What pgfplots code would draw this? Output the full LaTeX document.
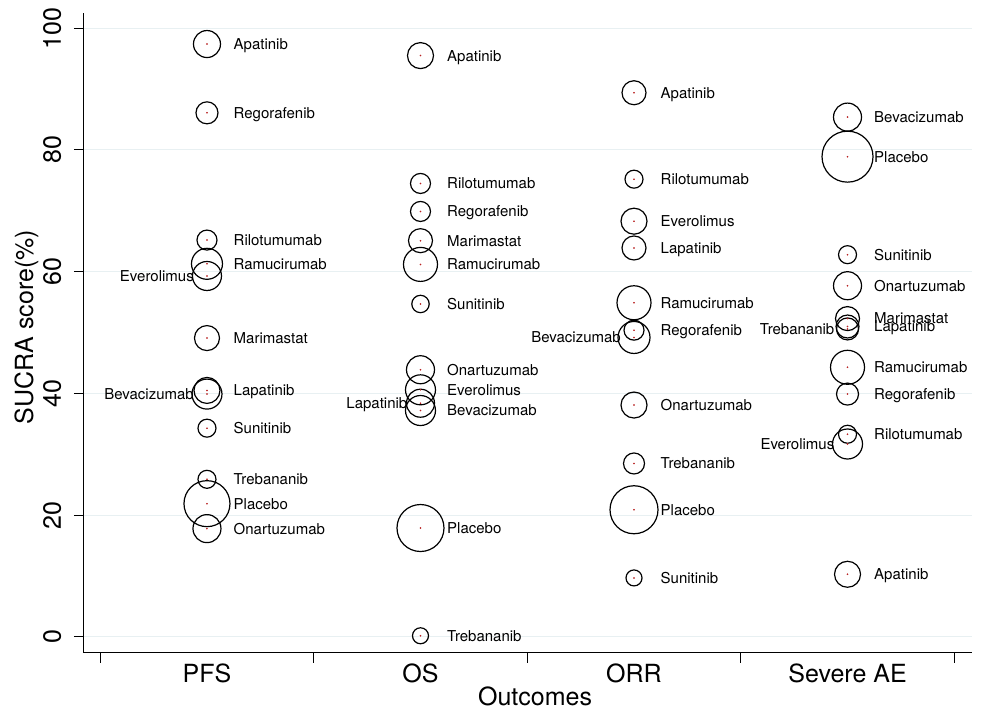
\documentclass[border=0pt]{standalone}
\usepackage{fontspec}
\setmainfont{TeX Gyre Heros}
\usepackage{pgfplots}
\pgfplotsset{compat=1.18}
\usepackage{pgfplotstable}

\definecolor{gridc}{RGB}{232,240,242}
\definecolor{dotc}{RGB}{185,35,35}

% SUCRA scores; x: 1 = PFS, 2 = OS, 3 = ORR, 4 = Severe AE; r: bubble radius
% treatments labelled on the right of the bubble
\pgfplotstableread{
x y r name
1 97.4 13.5 Apatinib
1 86.1 11 Regorafenib
1 65.2 10 Rilotumumab
1 61.3 15.5 Ramucirumab
1 49.1 12.5 Marimastat
1 40.5 13 Lapatinib
1 34.3 9 Sunitinib
1 25.9 9 Trebananib
1 21.9 23 Placebo
1 17.8 14 Onartuzumab
2 95.5 13 Apatinib
2 74.5 10 Rilotumumab
2 69.9 10 Regorafenib
2 65.1 12 Marimastat
2 61.2 17 Ramucirumab
2 54.7 8.7 Sunitinib
2 43.9 14 Onartuzumab
2 40.6 15 Everolimus
2 37.2 15 Bevacizumab
2 17.9 23.5 Placebo
2 0.2 8 Trebananib
3 89.4 12 Apatinib
3 75.2 9 Rilotumumab
3 68.3 13 Everolimus
3 63.9 12 Lapatinib
3 54.9 17 Ramucirumab
3 50.4 10 Regorafenib
3 38.1 13 Onartuzumab
3 28.5 10.5 Trebananib
3 20.9 24 Placebo
3 9.7 8 Sunitinib
4 85.4 14 Bevacizumab
4 78.9 25.5 Placebo
4 62.8 9 Sunitinib
4 57.7 14 Onartuzumab
4 52.3 12 Marimastat
4 51.0 11.5 Lapatinib
4 44.3 17 Ramucirumab
4 39.9 11 Regorafenib
4 33.3 9 Rilotumumab
4 10.3 13 Apatinib
}\labright

% treatments labelled on the left of the bubble
\pgfplotstableread{
x y r name
1 59.3 14.5 Everolimus
1 39.9 15 Bevacizumab
2 38.4 14 Lapatinib
3 49.2 16 Bevacizumab
4 50.6 11 Trebananib
4 31.7 15 Everolimus
}\lableft

\pgfplotsset{
  bubble/.style={scatter, only marks, mark=o, line width=1.2pt,
    scatter/use mapped color={draw=black},
    visualization depends on={\thisrow{r} \as \perpointmarksize},
    scatter/@pre marker code/.append style={/tikz/mark size=\perpointmarksize}},
  namelabel/.style={only marks, mark=none, point meta=explicit symbolic,
    nodes near coords,
    every node near coord/.append style={inner sep=0pt, yshift=-5.4pt,
      black, font=\fontsize{15}{15}\selectfont}},
}

\begin{document}
\begin{tikzpicture}
\begin{axis}[
  scale only axis, width=888pt, height=640pt,
  xmin=0.424, xmax=4.583, ymin=-2.63, ymax=102.5,
  clip=false,
  axis lines*=left,
  axis line style={black, line width=1pt},
  tick align=outside,
  major tick length=10pt, minor tick length=10pt,
  tick style={black, line width=1pt},
  xtick={1,2,3,4},
  xticklabels={PFS,OS,ORR,Severe AE},
  minor xtick={0.5,1.5,2.5,3.5,4.5},
  every major x tick/.append style={draw=none},
  ytick={0,20,40,60,80,100},
  ymajorgrids,
  grid style={gridc, line width=1pt},
  /pgf/number format/assume math mode=true,
  tick label style={font=\fontsize{25}{25}\selectfont},
  xticklabel style={anchor=base, inner sep=0pt, yshift=-20pt},
  yticklabel style={xshift=-13pt, rotate=90, anchor=base, inner sep=0pt},
  xlabel={Outcomes},
  ylabel={SUCRA score(\%)},
  every axis x label/.style={at={(axis description cs:0.508,-0.0813)}, anchor=base, font=\fontsize{25}{25}\selectfont},
  every axis y label/.style={at={(axis description cs:-0.0574,0.509)}, rotate=90, anchor=base, font=\fontsize{25}{25}\selectfont},
]
% bubbles
\addplot[bubble] table[x=x, y=y] {\labright};
\addplot[bubble] table[x=x, y=y] {\lableft};
% centre dots
\addplot[only marks, mark=*, mark size=0.6pt, dotc] table[x=x, y=y] {\labright};
\addplot[only marks, mark=*, mark size=0.6pt, dotc] table[x=x, y=y] {\lableft};
% treatment names
\addplot[namelabel, every node near coord/.append style={anchor=base west, xshift=26.5pt}]
  table[x=x, y=y, meta=name] {\labright};
\addplot[namelabel, every node near coord/.append style={anchor=base east, xshift=-13pt}]
  table[x=x, y=y, meta=name] {\lableft};
\coordinate (sw) at (rel axis cs:0,0);
\coordinate (ne) at (rel axis cs:1,1);
\end{axis}
\pgfresetboundingbox
\path ([xshift=-84pt, yshift=-61pt]sw) rectangle ([xshift=9pt, yshift=13pt]ne);
\end{tikzpicture}
\end{document}
